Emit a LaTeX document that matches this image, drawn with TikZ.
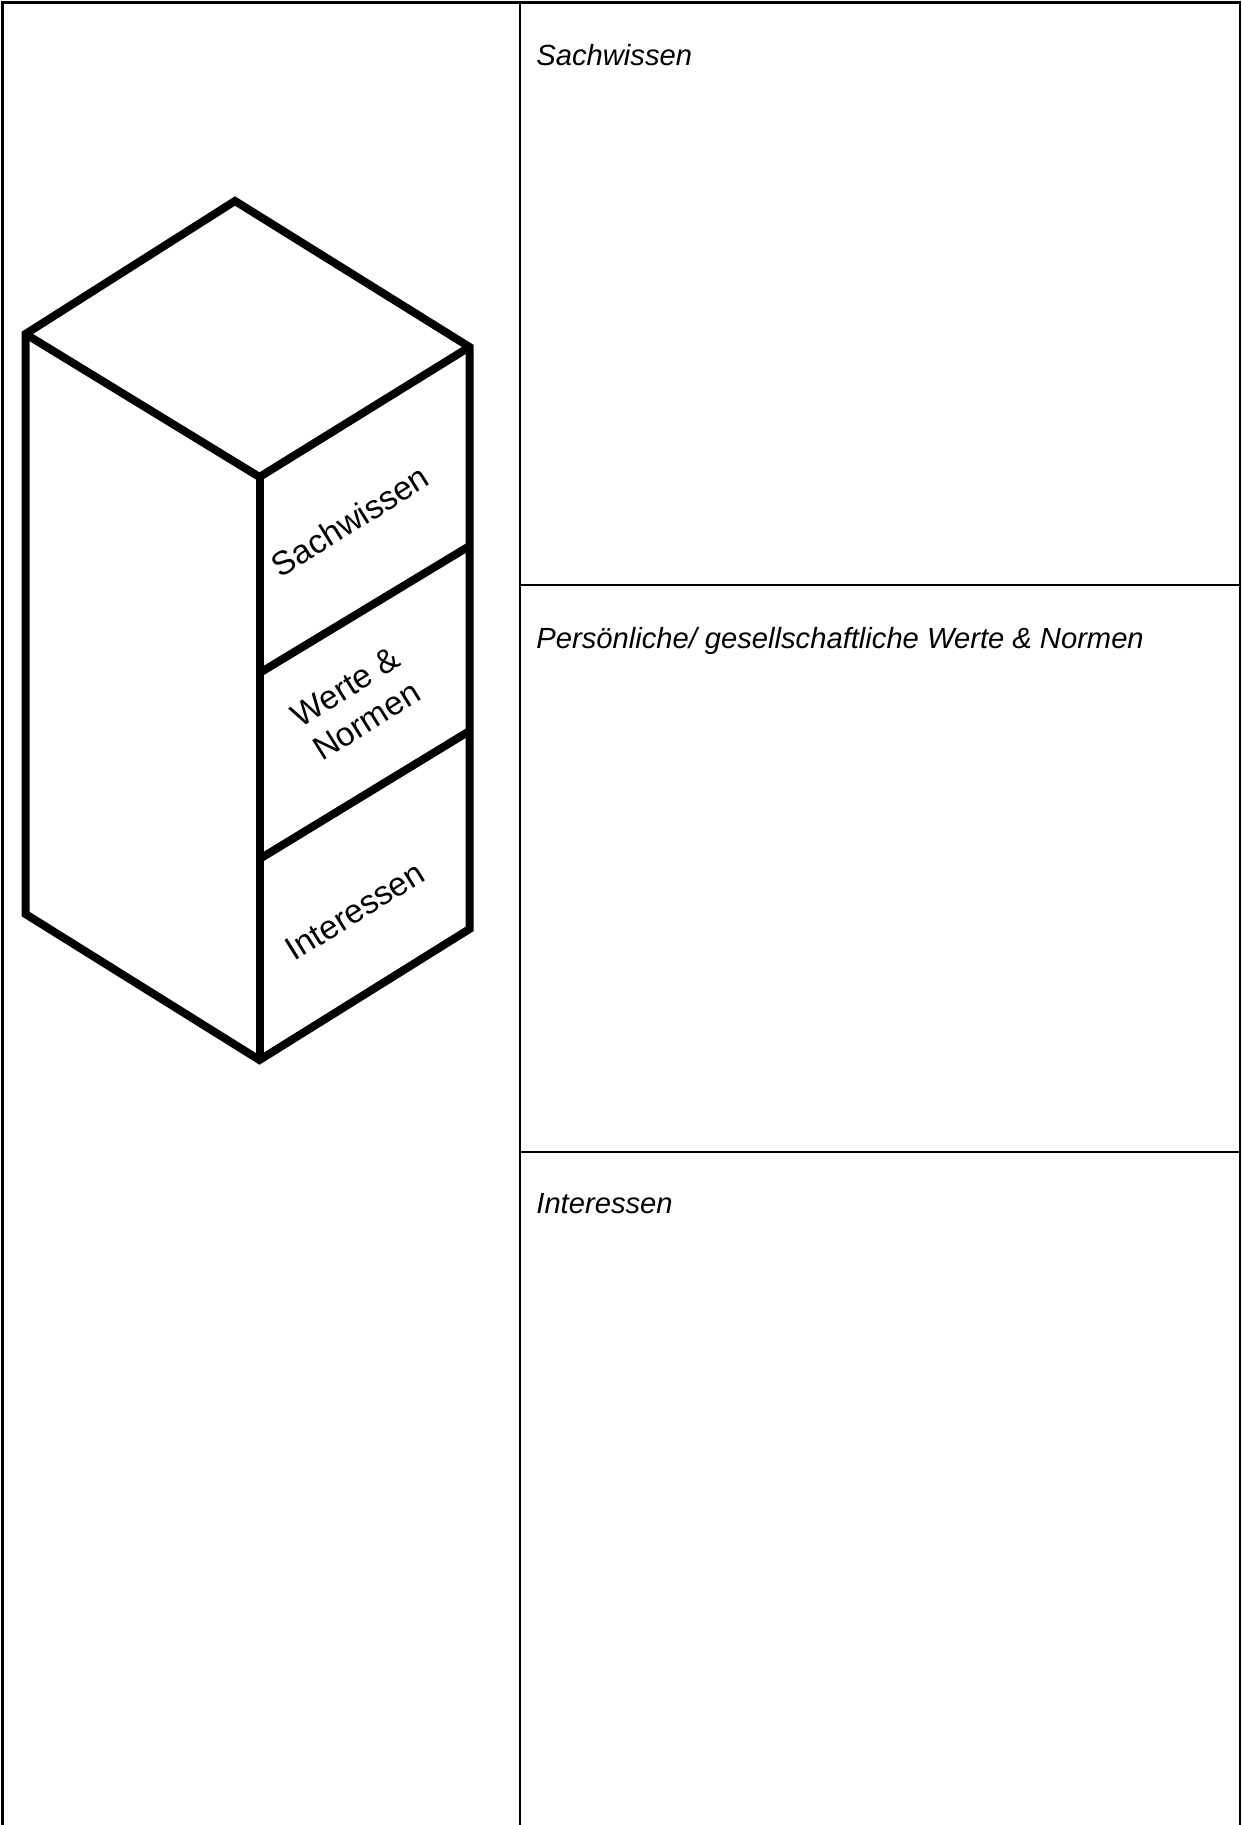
\documentclass[tikz,border=0pt]{standalone}
\usepackage{fontspec}
\setmainfont{Liberation Sans}
\begin{document}
\begin{tikzpicture}[x=0.48pt,y=-0.48pt,
  frame/.style={line width=0.96pt, line cap=rect},
  cube/.style={line width=3.84pt, line join=miter},
  celltext/.style={anchor=base west, inner sep=0pt, font=\fontsize{14}{16}\selectfont\itshape},
  facetext/.style={rotate=32, inner sep=0pt, align=center, font=\fontsize{16}{19}\selectfont}]
\useasboundingbox (0,0) rectangle (1241,1825);
% table frame
\draw[frame] (2.5,1825) -- (2.5,2.5) -- (1239.5,2.5) -- (1239.5,1825);
\draw[frame] (520,2.5) -- (520,1825);
\draw[frame] (520,585) -- (1239.5,585);
\draw[frame] (520,1152) -- (1239.5,1152);
% right column texts
\node[celltext] (t1) at (536,65) {Sachwissen};
\node[celltext] (t2) at (536,648) {Persönliche/ gesellschaftliche Werte \& Normen};
\node[celltext] (t3) at (536,1213) {Interessen};
% cube
\coordinate (T) at (235,201);
\coordinate (LT) at (25.5,334);
\coordinate (FT) at (259.5,477);
\coordinate (RT) at (469.5,347);
\coordinate (LB) at (25.5,914);
\coordinate (FB) at (259.5,1060);
\coordinate (RB) at (469.5,929);
\coordinate (D1F) at (259.5,673);
\coordinate (D1R) at (469.5,546);
\coordinate (D2F) at (259.5,859);
\coordinate (D2R) at (469.5,731);
\draw[cube] (T) -- (RT) -- (RB) -- (FB) -- (LB) -- (LT) -- cycle;
\draw[cube] (LT) -- (FT) -- (RT);
\draw[cube] (FT) -- (FB);
\draw[cube] (D1F) -- (D1R);
\draw[cube] (D2F) -- (D2R);
% face labels
\node[facetext] (f1) at (350,521) {Sachwissen};
\node[facetext] (f2) at (356,704) {Werte \&\\Normen};
\node[facetext] (f3) at (355,911) {Interessen};
\end{tikzpicture}
\end{document}
